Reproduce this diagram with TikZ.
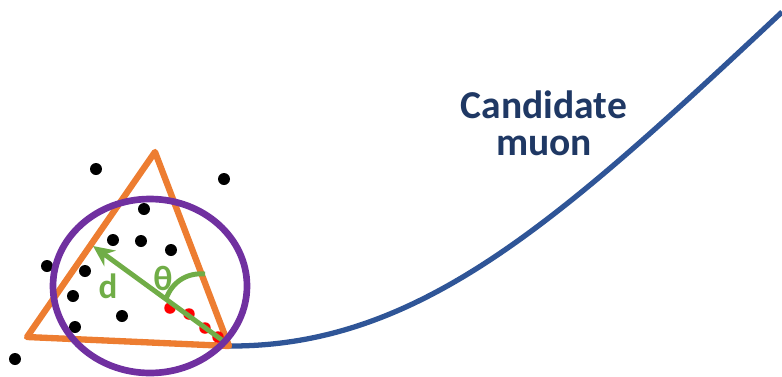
\documentclass[tikz,border=0pt]{standalone}
\definecolor{muonblue}{RGB}{47, 85, 151}
\definecolor{labelblue}{RGB}{31, 56, 100}
\definecolor{coneorange}{RGB}{237, 125, 49}
\definecolor{isopurple}{RGB}{112, 48, 160}
\definecolor{anglegreen}{RGB}{112, 173, 71}
\usepackage{fontspec}
\setmainfont{Carlito}
\usepackage{tikz}
\usetikzlibrary{arrows.meta, positioning}

\begin{document}
\begin{tikzpicture}[x=0.02cm, y=-0.02cm, line join=round,
    track/.style={line width=3pt, muonblue},
    dot/.style={circle, fill=black, inner sep=0pt, minimum size=0.24cm},
    hit/.style={circle, fill=red, inner sep=0pt, minimum size=0.23cm},
    greenlbl/.style={text=anglegreen, font=\fontsize{20}{22}\selectfont\bfseries}]
      \useasboundingbox (0,0) rectangle (782,376);

      \coordinate (vtx) at (229,346);
      \coordinate (top) at (155,152);
      \coordinate (left) at (27,337);
      \coordinate (end) at (782,12);

      % candidate muon track
      \draw[track] (vtx) .. controls (420,347) and (560,220) .. (end);
      \node (lbl) [text=labelblue, align=center, font=\fontsize{22.5}{21}\selectfont\bfseries] at (544,123) {Candidate\\muon};

      % cone
      \draw[coneorange, line width=3.6pt] (vtx) -- (top) -- (left) -- cycle;

      % other tracks
      \foreach \x/\y [count=\i] in {96/169, 224/179, 144/209, 113/240, 141/241, 171/250, 47/266, 85/271, 73/296, 122/316, 75/327, 15/359}
        \node (p\i) [dot] at (\x,\y) {};

      % hits
      \foreach \x/\y [count=\i] in {170/308, 189/314, 205/328, 218/337}
        \node (h\i) [hit] at (\x,\y) {};

      % distance and angle
      \coordinate (dbase) at (222,340);
      \coordinate (dtip) at (93,246);
      \coordinate (a1) at (166,299);
      \coordinate (a2) at (205,274);
      \draw[-{Stealth[length=12pt, width=11pt]}, anglegreen, line width=2.8pt] (dbase) -- (dtip);
      \draw[anglegreen, line width=2.8pt] (a1) to[bend left=38] (a2);
      \node (d) [greenlbl] at (108,286) {d};
      \node (theta) [greenlbl] at (163,278) {θ};

      % isolation region
      \draw[isopurple, line width=3.8pt] (150,286) ellipse [x radius=97, y radius=87];
    \end{tikzpicture}
\end{document}
